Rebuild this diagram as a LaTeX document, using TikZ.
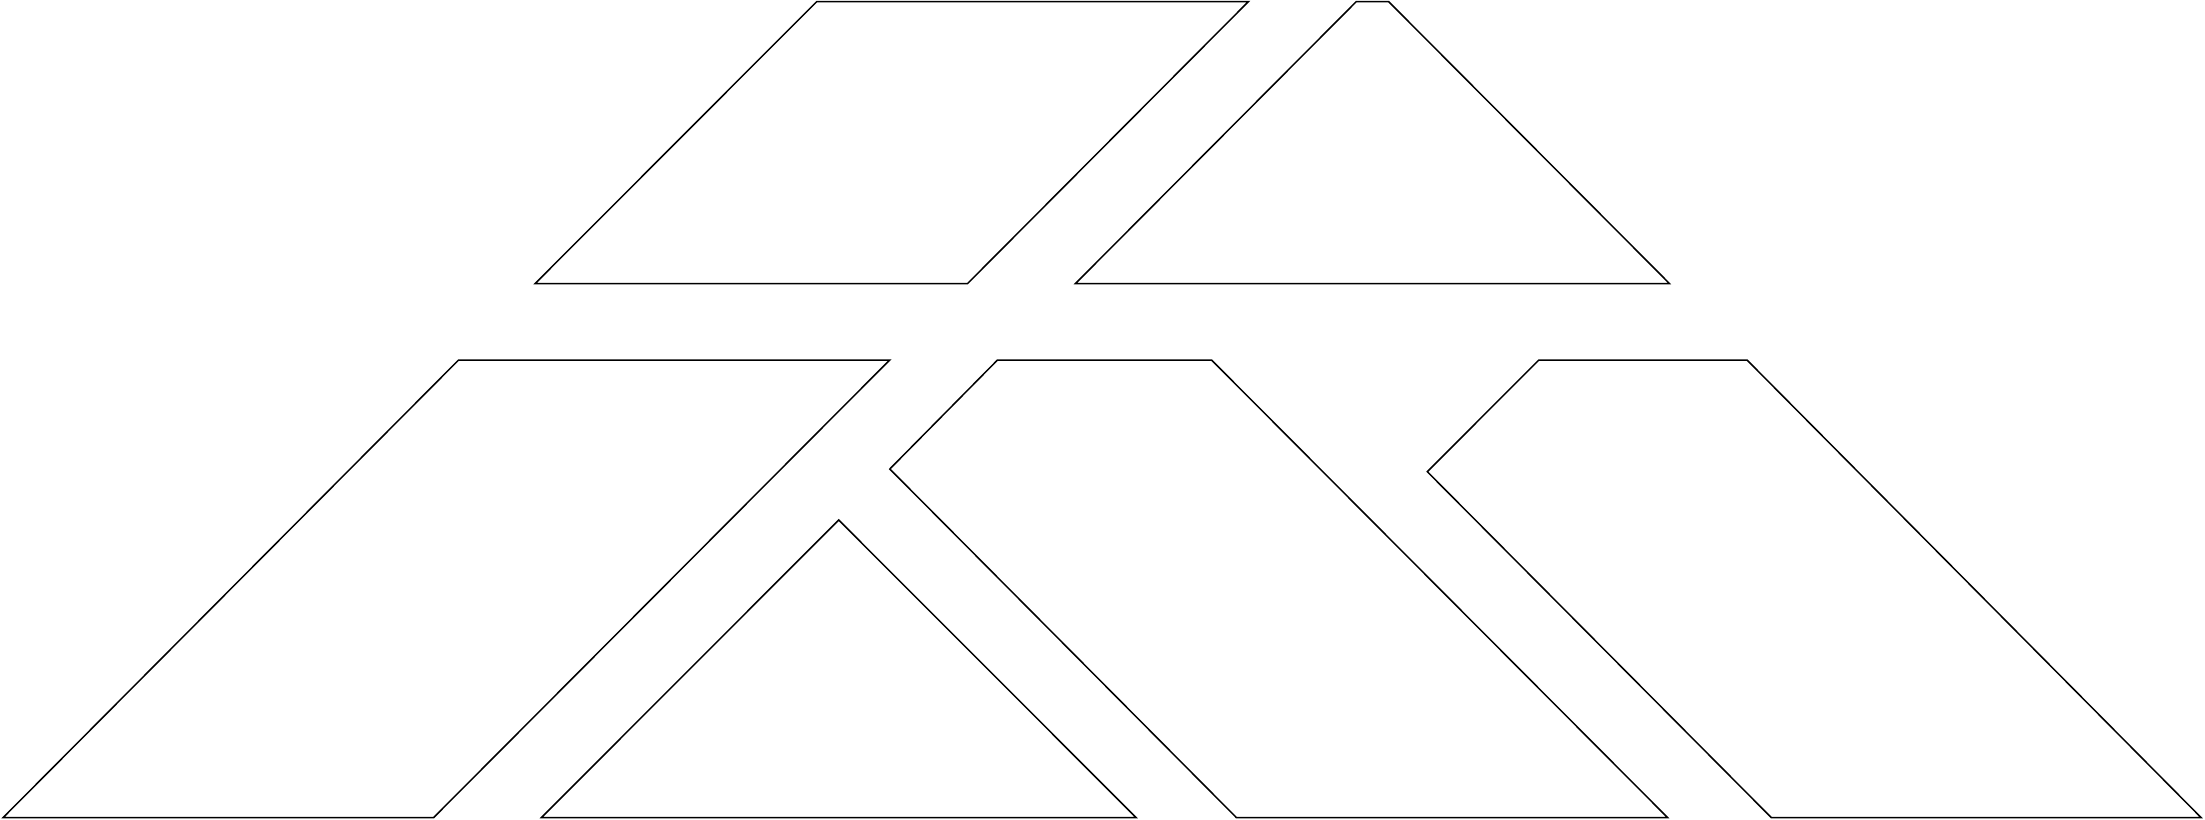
\documentclass[tikz,border=0pt]{standalone}
\begin{document}
\begin{tikzpicture}[x=1pt,y=-1pt,piece/.style={draw=black,line width=1.5pt,line join=miter,fill=white}]
\useasboundingbox (0,0) rectangle (2205,819);
% top row
\draw[piece] (535.2,283.5) -- (967.6,283.5) -- (1248.5,1.5) -- (816.8,1.5) -- cycle;
\draw[piece] (1075.5,283.5) -- (1669.4,283.5) -- (1388.5,1.5) -- (1356.4,1.5) -- cycle;
% bottom row
\draw[piece] (3.2,817.5) -- (433.7,817.5) -- (889.7,360) -- (458.6,360) -- cycle;
\draw[piece] (541.5,817.5) -- (1136,817.5) -- (838.7,520) -- cycle;
\draw[piece] (889.8,469) -- (997.5,360) -- (1211.5,360) -- (1667.5,817.5) -- (1236.3,817.5) -- cycle;
\draw[piece] (1427.3,471.7) -- (1538.8,360) -- (1747,360) -- (2201,817.5) -- (1771.2,817.5) -- cycle;
\end{tikzpicture}
\end{document}
